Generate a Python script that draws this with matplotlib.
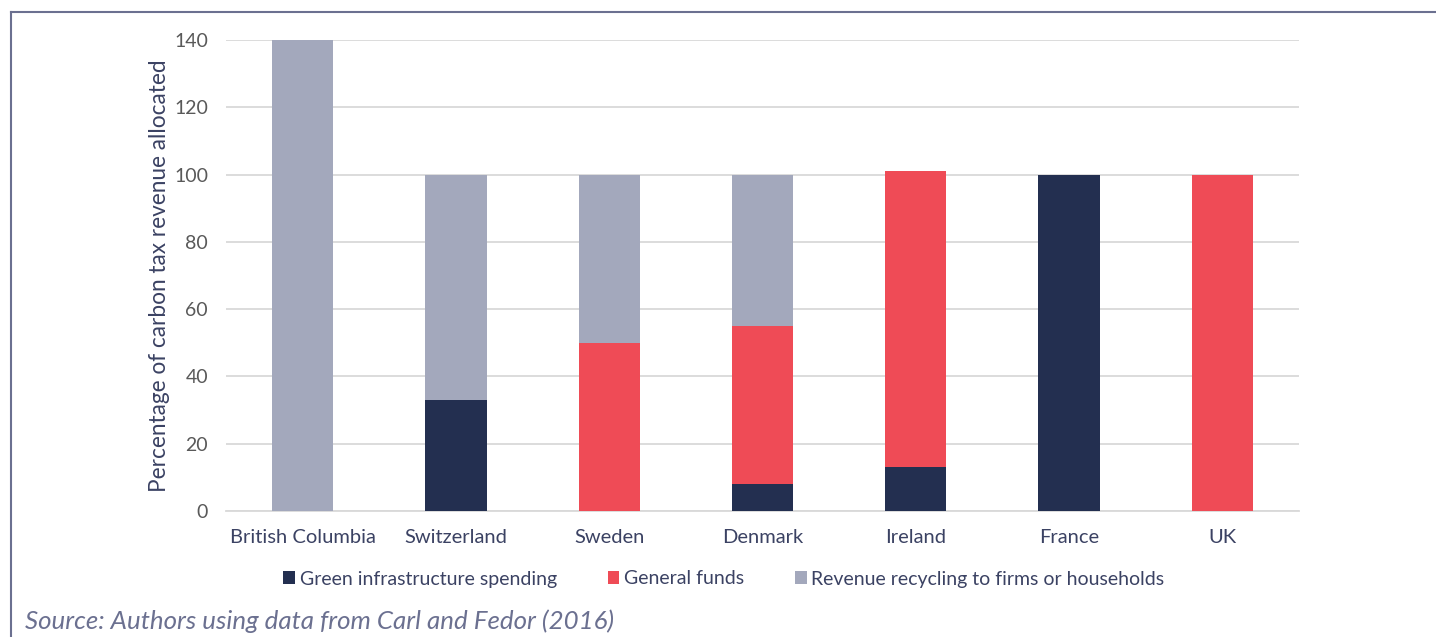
import matplotlib
matplotlib.use('Agg')
import matplotlib.pyplot as plt
import numpy as np
from matplotlib.lines import Line2D

# data
regions = ['British Columbia', 'Switzerland', 'Sweden', 'Denmark', 'Ireland', 'France', 'UK']
green_infra = [0, 33, 0, 8, 13, 100, 0]
general_funds = [0, 0, 50, 47, 88, 0, 100]
revenue_recycling = [140, 67, 50, 45, 0, 0, 0]
series_names = ['Green infrastructure spending', 'General funds',
                'Revenue recycling to firms or households']

navy = '#232f50'
red = '#ef4b56'
grey = '#a3a8bc'
text_col = '#3b4263'
tick_col = '#595959'

plt.rcParams['font.family'] = ['Lato', 'DejaVu Sans']

fig = plt.figure(figsize=(14.36, 6.37), dpi=100)
ax = fig.add_axes([0.1574, 0.1978, 0.7472, 0.7394])

x = np.arange(len(regions))
w = 0.4
g = np.array(green_infra)
f = np.array(general_funds)
r = np.array(revenue_recycling)
ax.bar(x, g, w, color=navy, label=series_names[0], zorder=3)
ax.bar(x, f, w, bottom=g, color=red, label=series_names[1], zorder=3)
ax.bar(x, r, w, bottom=g + f, color=grey, label=series_names[2], zorder=3)

ax.set_xlim(-0.5, len(regions) - 0.5)
ax.set_ylim(0, 140)
ax.set_yticks(range(0, 141, 20))
ax.yaxis.grid(True, color='#d9d9d9', linewidth=1.3, zorder=0)
for s in ['top', 'right', 'left']:
    ax.spines[s].set_visible(False)
ax.spines['bottom'].set_color('#d9d9d9')
ax.spines['bottom'].set_linewidth(1.3)
ax.tick_params(length=0)
ax.tick_params(axis='y', colors=tick_col, labelsize=14, pad=13)
ax.tick_params(axis='x', colors=text_col, labelsize=14.5, pad=13)
ax.set_xticks(x)
ax.set_xticklabels(regions)
ax.set_ylabel('Percentage of carbon tax revenue allocated', color=text_col,
              fontsize=16.3, labelpad=3)

fig.legend(loc='center', bbox_to_anchor=(724 / 1436, 1 - 579 / 637), ncol=3,
           frameon=False, fontsize=14, labelcolor=text_col,
           handlelength=0.6, handleheight=0.6, handletextpad=0.25,
           columnspacing=2.6)

fig.text(25 / 1436, 1 - 621 / 637, 'Source: Authors using data from Carl and Fedor (2016)',
         fontsize=18.6, style='italic', color='#6b7090', va='center', ha='left')

# frame lines
fig.add_artist(Line2D([11 / 1436, 11 / 1436], [0, 1 - 12 / 637], color='#6b7090', lw=1.5))
fig.add_artist(Line2D([11 / 1436, 1], [1 - 12 / 637, 1 - 12 / 637], color='#6b7090', lw=1.5))

fig.savefig('out.png', dpi=100)
